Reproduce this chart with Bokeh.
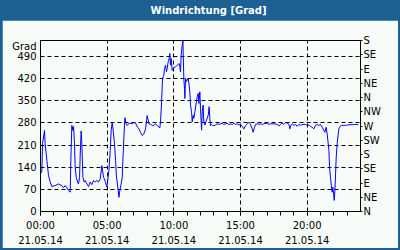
from bokeh.plotting import figure
from bokeh.models import Range1d, LinearAxis, FixedTicker, Label
from bokeh.layouts import column
from bokeh.embed import file_html
from bokeh.resources import INLINE

TITLE = "Windrichtung [Grad]"
Y_UNIT = "Grad"

hours = [0.00, 0.10, 0.15, 0.30, 0.35, 0.48, 0.60, 0.73, 0.85, 1.10, 1.35, 1.60, 1.73, 1.85, 1.98,
         2.10, 2.23, 2.28, 2.35, 2.43, 2.48, 2.55, 2.60, 2.68, 2.78, 2.85, 2.93, 2.98, 3.05, 3.10,
         3.18, 3.28, 3.35, 3.48, 3.60, 3.73, 3.85, 3.98, 4.10, 4.23, 4.35, 4.48, 4.60, 4.73, 4.85,
         4.98, 5.13, 5.23, 5.30, 5.38, 5.45, 5.55, 5.63, 5.70, 5.80, 5.88, 5.95, 6.05, 6.13, 6.20,
         6.28, 6.33, 6.43, 6.50, 6.63, 6.75, 6.88, 7.00, 7.13, 7.25, 7.38, 7.50, 7.63, 7.75, 7.88,
         8.00, 8.13, 8.25, 8.38, 8.50, 8.63, 8.75, 8.88, 8.95, 9.00, 9.08, 9.15, 9.25, 9.30, 9.38,
         9.45, 9.50, 9.58, 9.65, 9.70, 9.75, 9.80, 9.88, 10.00, 10.13, 10.25, 10.33, 10.40, 10.45,
         10.50, 10.55, 10.63, 10.68, 10.70, 10.75, 10.80, 10.83, 10.88, 10.95, 11.00, 11.08, 11.15,
         11.20, 11.25, 11.33, 11.38, 11.45, 11.50, 11.58, 11.65, 11.75, 11.83, 11.88, 11.95, 12.00,
         12.08, 12.13, 12.20, 12.25, 12.33, 12.40, 12.50, 12.58, 12.65, 12.70, 12.75, 12.83, 12.90,
         13.00, 13.13, 13.25, 13.38, 13.50, 13.63, 13.75, 13.88, 14.00, 14.13, 14.25, 14.38, 14.50,
         14.63, 14.75, 14.88, 15.00, 15.13, 15.25, 15.38, 15.50, 15.63, 15.75, 15.88, 15.95, 16.05,
         16.13, 16.25, 16.38, 16.50, 16.63, 16.75, 17.00, 17.13, 17.25, 17.50, 17.75, 17.88, 18.00,
         18.13, 18.25, 18.38, 18.50, 18.63, 18.70, 18.78, 18.88, 19.00, 19.13, 19.25, 19.38, 19.50,
         19.63, 19.88, 20.00, 20.13, 20.25, 20.38, 20.50, 20.63, 20.75, 20.88, 21.00, 21.13, 21.25,
         21.33, 21.38, 21.43, 21.50, 21.58, 21.63, 21.68, 21.75, 21.83, 21.88, 21.93, 21.98, 22.03,
         22.08, 22.13, 22.18, 22.25, 22.33, 22.38, 22.45, 22.58, 22.88, 23.13, 23.38, 23.63, 23.83]

degrees = [121, 124, 214, 256, 214, 161, 114, 93, 79, 82, 87, 82, 75, 82, 75,
           66, 61, 172, 272, 256, 268, 214, 140, 108, 93, 87, 108, 182, 254, 214,
           108, 93, 98, 87, 79, 93, 85, 98, 93, 98, 93, 103, 145, 108, 96,
           77, 129, 193, 256, 282, 256, 214, 161, 108, 77, 45, 66, 87, 108, 182,
           256, 296, 277, 272, 277, 279, 277, 281, 279, 268, 261, 250, 240, 245, 261,
           303, 277, 275, 272, 272, 277, 271, 267, 264, 283, 346, 420, 430, 452, 462,
           441, 452, 473, 483, 499, 462, 483, 446, 454, 457, 462, 465, 467, 457,
           441, 494, 525, 540, 504, 420, 388, 357, 420, 410, 415, 420, 399,
           378, 336, 315, 283, 304, 294, 315, 336, 362, 373, 341, 378, 325,
           257, 315, 336, 283, 273, 283, 294, 304, 331, 294, 271, 275, 272,
           271, 273, 277, 275, 277, 279, 275, 277, 279, 274, 277, 275, 279,
           275, 277, 273, 275, 269, 261, 271, 277, 282, 275, 261, 250, 266,
           275, 277, 275, 277, 275, 277, 279, 275, 277, 277, 275, 270, 275,
           279, 275, 281, 279, 275, 261, 272, 277, 272, 275, 269, 275, 272,
           275, 275, 272, 273, 269, 266, 261, 272, 275, 272, 275, 266, 256,
           250, 261, 266, 245, 214, 193, 140, 108, 72, 61, 77, 56, 35,
           66, 119, 172, 214, 245, 261, 268, 272, 272, 274, 274, 275, 275]

x_ticks = [0, 5, 10, 15, 20]
time_labels = ["00:00", "05:00", "10:00", "15:00", "20:00"]
date_labels = ["21.05.14", "21.05.14", "21.05.14", "21.05.14", "21.05.14"]
hour_minor = list(range(0, 24))
deg_ticks = [0, 70, 140, 210, 280, 350, 420, 490]
unit_tick = 521
compass_ticks = [0, 45, 90, 135, 180, 225, 270, 315, 360, 405, 450, 495, 540]
compass_labels = ["N", "NE", "E", "SE", "S", "SW", "W", "NW", "N", "NE", "E", "SE", "S"]

BLUE = "#1c6094"
BG = "#f8fcf8"
FONT = "DejaVu Sans"
FS = "10px"

# header bar with title
header = figure(width=400, height=20, x_range=Range1d(0, 400), y_range=Range1d(0, 20),
                output_backend="svg", toolbar_location=None, min_border=0,
                x_axis_location=None, y_axis_location=None)
header.grid.visible = False
header.outline_line_color = None
header.background_fill_color = BLUE
header.border_fill_color = BLUE
header.add_layout(Label(x=210, y=10, text=TITLE, text_align="center", text_baseline="middle",
                        text_color="white", text_font=FONT, text_font_size=FS,
                        text_font_style="bold"))

p = figure(width=396, height=228, x_range=Range1d(0, 24), y_range=Range1d(0, 540),
           output_backend="svg", toolbar_location=None,
           min_border_left=38, min_border_right=38, min_border_top=20, min_border_bottom=37,
           margin=(0, 2, 2, 2))
p.background_fill_color = BG
p.border_fill_color = BG
p.outline_line_color = "black"

p.line(hours, degrees, line_color="#0000ff", line_width=1)

# bottom time axis
xa = p.xaxis[0]
xa.ticker = FixedTicker(ticks=x_ticks, minor_ticks=hour_minor)
xa.major_label_overrides = dict(zip(x_ticks, time_labels))
xa.major_tick_in = 0
xa.major_tick_out = 4
xa.minor_tick_in = 0
xa.minor_tick_out = 4
xa.minor_tick_line_color = "black"
xa.major_label_standoff = 4
xa.major_label_text_font = FONT
xa.major_label_text_font_size = FS
xa.major_label_text_color = "black"
xa.axis_line_color = "black"

# date axis below
da = LinearAxis(ticker=FixedTicker(ticks=x_ticks, minor_ticks=[]),
                major_label_overrides=dict(zip(x_ticks, date_labels)))
da.axis_line_color = None
da.major_tick_line_color = None
da.minor_tick_line_color = None
da.major_tick_in = 0
da.major_tick_out = 0
da.major_label_standoff = 2
da.major_label_text_font = FONT
da.major_label_text_font_size = FS
da.major_label_text_color = "black"
p.add_layout(da, "below")

# left degree axis (unit label "Grad" shown as the top label)
ya = p.yaxis[0]
ya.ticker = FixedTicker(ticks=deg_ticks + [unit_tick], minor_ticks=[])
ya.major_label_overrides = {unit_tick: Y_UNIT}
ya.major_tick_in = 0
ya.major_tick_out = 0
ya.major_label_standoff = 4
ya.major_label_text_font = FONT
ya.major_label_text_font_size = FS
ya.major_label_text_color = "black"
ya.axis_line_color = "black"

# right compass axis
p.extra_y_ranges = {"compass": Range1d(0, 540)}
ra = LinearAxis(y_range_name="compass",
                ticker=FixedTicker(ticks=compass_ticks, minor_ticks=[]),
                major_label_overrides=dict(zip(compass_ticks, compass_labels)))
ra.major_tick_in = 0
ra.major_tick_out = 2
ra.major_label_standoff = 1
ra.major_label_text_font = FONT
ra.major_label_text_font_size = FS
ra.major_label_text_color = "black"
ra.axis_line_color = "black"
p.add_layout(ra, "right")

p.xgrid[0].ticker = FixedTicker(ticks=x_ticks, minor_ticks=[])
p.ygrid[0].ticker = FixedTicker(ticks=deg_ticks, minor_ticks=[])
for g in (p.xgrid[0], p.ygrid[0]):
    g.grid_line_color = "black"
    g.grid_line_dash = "4 3"
    g.grid_line_width = 1

layout = column(header, p, styles={"background-color": BLUE})

open("out.html", "w").write(file_html(layout, INLINE))
